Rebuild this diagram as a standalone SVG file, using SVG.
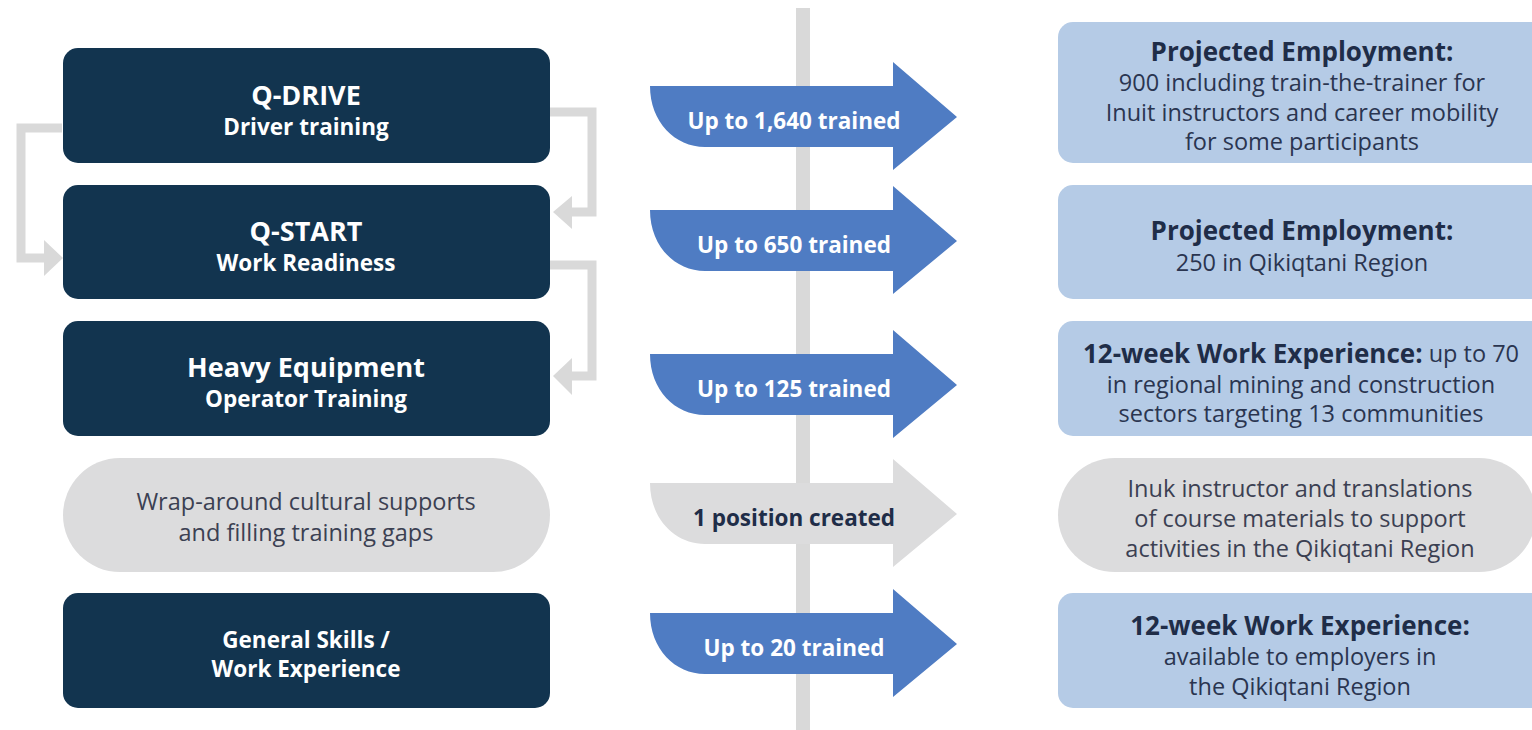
<svg xmlns="http://www.w3.org/2000/svg" width="1532" height="730" viewBox="0 0 1532 730">
<style>
.dark{fill:#12344f}
.pill{fill:#dcdcdd}
.lb{fill:#b5cbe6}
.t{font-family:"Open Sans","Liberation Sans",sans-serif;text-anchor:middle;dominant-baseline:central}
.wt{fill:#ffffff;font-weight:700}
.h1{font-size:27px}
.h2{font-size:22.5px}
.at{font-size:22.5px;font-weight:700;fill:#ffffff}
.ag{font-size:22.5px;font-weight:700;fill:#1f2d48}
.rh{font-size:26px;font-weight:700;fill:#1f2d48}
.rb{font-size:23.5px;fill:#2a3550}
.gl{font-size:23.5px;fill:#3b4052}
.br{fill:none;stroke:#d9d9d9;stroke-width:9}
.bh{fill:#d9d9d9}
</style>
<defs>
<path id="arr" d="M650,-31 L893,-31 L893,-55 L957,0 L893,53 L893,30 L705,30 C675,30 650,5 650,-31 Z"/>
</defs>
<rect x="796" y="8" width="14" height="722" fill="#d9d9d9"/>
<g id="connectors">
<path class="br" d="M62,128 H21 V258 H46"/>
<polygon class="bh" points="44,240 63,258 44,276"/>
<path class="br" d="M550,112 H592 V212 H570"/>
<polygon class="bh" points="572,196 553,212 572,229"/>
<path class="br" d="M550,265 H592 V376 H570"/>
<polygon class="bh" points="572,358 553,376 572,395"/>
</g>
<g id="qdrive"><rect class="dark" x="63" y="48" width="487" height="115" rx="15"/>
<text class="t wt h1" x="306" y="94">Q-DRIVE</text><text class="t wt h2" x="306" y="126">Driver training</text></g>
<g id="qstart"><rect class="dark" x="63" y="185" width="487" height="114" rx="15"/>
<text class="t wt h1" x="306" y="230">Q-START</text><text class="t wt h2" x="306" y="262">Work Readiness</text></g>
<g id="heavy"><rect class="dark" x="63" y="321" width="487" height="115" rx="15"/>
<text class="t wt h1" x="306" y="366">Heavy Equipment</text><text class="t wt h2" x="306" y="398">Operator Training</text></g>
<g id="wrap"><rect class="pill" x="63" y="458" width="487" height="114" rx="57"/>
<text class="t gl" x="306" y="501">Wrap-around cultural supports</text><text class="t gl" x="306" y="532">and filling training gaps</text></g>
<g id="general"><rect class="dark" x="63" y="593" width="487" height="115" rx="15"/>
<text class="t wt h2" x="306" y="639">General Skills /</text><text class="t wt h2" x="306" y="668">Work Experience</text></g>
<g id="arrow1"><use href="#arr" y="117" fill="#4f7cc3"/><text class="t at" x="794" y="120">Up to 1,640 trained</text></g>
<g id="arrow2"><use href="#arr" y="241" fill="#4f7cc3"/><text class="t at" x="794" y="244">Up to 650 trained</text></g>
<g id="arrow3"><use href="#arr" y="385" fill="#4f7cc3"/><text class="t at" x="794" y="388">Up to 125 trained</text></g>
<g id="arrow4"><use href="#arr" y="514" fill="#dcdcdd"/><text class="t ag" x="794" y="517">1 position created</text></g>
<g id="arrow5"><use href="#arr" y="644" fill="#4f7cc3"/><text class="t at" x="794" y="647">Up to 20 trained</text></g>
<g id="out1"><rect class="lb" x="1058" y="22" width="500" height="141" rx="15"/>
<text class="t rh" x="1302" y="51">Projected Employment:</text>
<text class="t rb" x="1302" y="82">900 including train-the-trainer for</text>
<text class="t rb" x="1302" y="112">Inuit instructors and career mobility</text>
<text class="t rb" x="1302" y="141">for some participants</text></g>
<g id="out2"><rect class="lb" x="1058" y="185" width="500" height="114" rx="15"/>
<text class="t rh" x="1302" y="230">Projected Employment:</text>
<text class="t rb" x="1302" y="262">250 in Qikiqtani Region</text></g>
<g id="out3"><rect class="lb" x="1058" y="321" width="500" height="115" rx="15"/>
<text class="t rb" x="1301" y="353"><tspan class="rh">12-week Work Experience:</tspan> up to 70</text>
<text class="t rb" x="1301" y="384">in regional mining and construction</text>
<text class="t rb" x="1301" y="413">sectors targeting 13 communities</text></g>
<g id="out4"><rect class="pill" x="1058" y="458" width="478" height="114" rx="57"/>
<text class="t gl" x="1300" y="488">Inuk instructor and translations</text>
<text class="t gl" x="1300" y="518">of course materials to support</text>
<text class="t gl" x="1300" y="548">activities in the Qikiqtani Region</text></g>
<g id="out5"><rect class="lb" x="1058" y="593" width="500" height="115" rx="15"/>
<text class="t rh" x="1300" y="625">12-week Work Experience:</text>
<text class="t rb" x="1300" y="656">available to employers in</text>
<text class="t rb" x="1300" y="686">the Qikiqtani Region</text></g>
</svg>
